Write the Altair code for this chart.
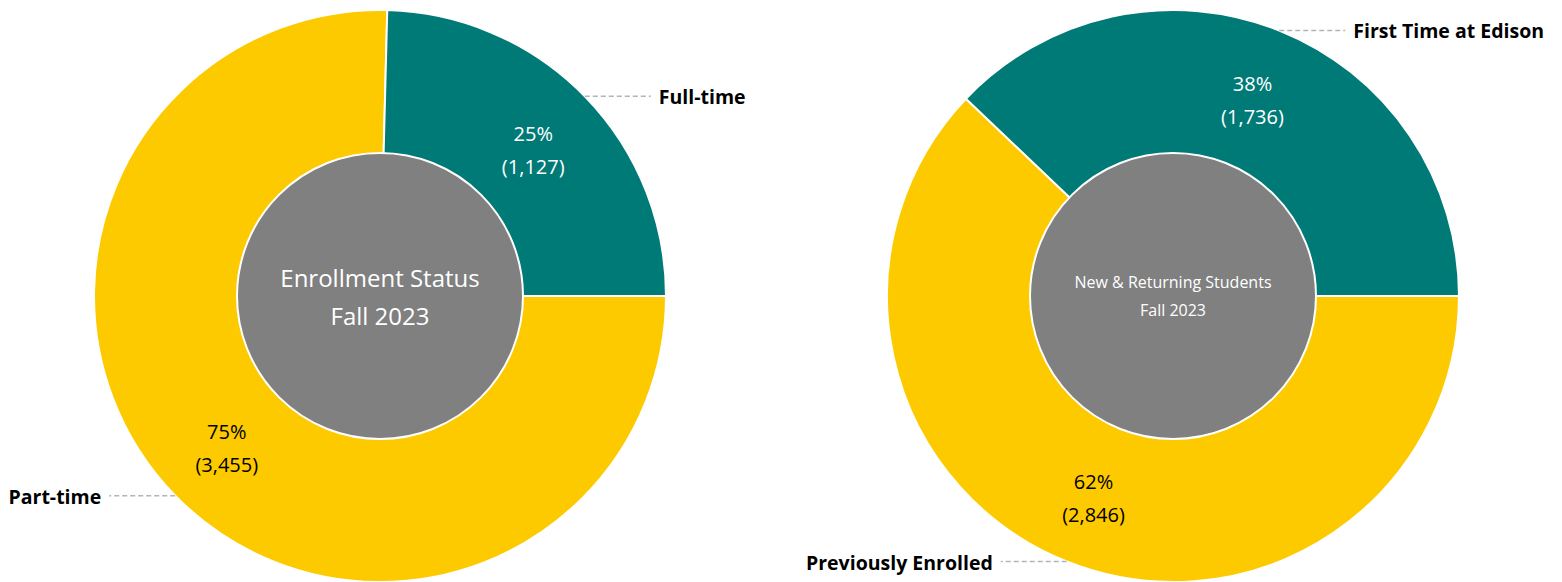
import altair as alt
import pandas as pd

# ---- data ----
groups = ["Enrollment Status", "Enrollment Status",
          "New & Returning Students", "New & Returning Students"]
categories = ["Part-time", "Full-time", "Previously Enrolled", "First Time at Edison"]
counts = [3455, 1127, 2846, 1736]
order = [1, 2, 1, 2]

center_titles = ["Enrollment Status", "New & Returning Students"]
center_subtitles = ["Fall 2023", "Fall 2023"]

# ---- layout / style ----
TEAL = "#007A76"
YELLOW = "#FDCA00"
GREY = "#808080"
FONT = "Open Sans"
CX_LEFT, CX_RIGHT, CY = 372, 1165, 288
R_OUT, R_IN, R_LABEL, LEADER = 286, 143, 214, 66

df = pd.DataFrame({"group": groups, "category": categories, "count": counts, "order": order})
centers = pd.DataFrame({"group": center_titles, "title": center_titles, "sub": center_subtitles,
                        "fs": [22, 15]})

cx_expr = f"datum.group === 'Enrollment Status' ? {CX_LEFT} : {CX_RIGHT}"

base = (
    alt.Chart(df)
    .transform_joinaggregate(total="sum(count)", groupby=["group"])
    .transform_window(cum="sum(count)", groupby=["group"],
                      sort=[alt.SortField("order")], frame=[None, 0])
    .transform_calculate(t1="PI/2 + 2*PI*datum.cum/datum.total")
    .transform_calculate(t0="PI/2 + 2*PI*(datum.cum - datum.count)/datum.total")
    .transform_calculate(tm="(datum.t0 + datum.t1)/2")
    .transform_calculate(cx=cx_expr)
    .transform_calculate(cy=str(CY))
    .transform_calculate(side="sin(datum.tm) > 0 ? 1 : -1")
    .transform_calculate(lx=f"datum.cx + {R_OUT}*sin(datum.tm)")
    .transform_calculate(ly=f"datum.cy - {R_OUT}*cos(datum.tm)")
    .transform_calculate(lx2=f"datum.lx + datum.side*{LEADER}")
    .transform_calculate(tx="datum.lx2 + datum.side*8")
    .transform_calculate(label="format(datum.count/datum.total, '.0%') + '\\n(' + format(datum.count, ',') + ')'")
    .transform_calculate(tcolor="datum.order === 2 ? 'white' : 'black'")
)

X = lambda f: alt.X(f, type="quantitative", scale=None, axis=None)
Y = lambda f: alt.Y(f, type="quantitative", scale=None, axis=None)

arcs = base.mark_arc(outerRadius=R_OUT, innerRadius=0, stroke="white", strokeWidth=2).encode(
    theta=alt.Theta("t0:Q", scale=None, stack=False),
    theta2="t1:Q",
    x=X("cx"), y=Y("cy"),
    color=alt.Color("category:N", legend=None,
                    scale=alt.Scale(domain=categories, range=[YELLOW, TEAL, YELLOW, TEAL])),
)

pct = base.mark_text(radius=R_LABEL, font=FONT, fontSize=20, lineBreak="\n", lineHeight=33,
                     dy=-12, align="center", baseline="middle").encode(
    theta=alt.Theta("tm:Q", scale=None, stack=False),
    x=X("cx"), y=Y("cy"),
    text="label:N",
    color=alt.Color("tcolor:N", scale=None),
)

leaders = base.mark_rule(color="#AEB6BA", strokeWidth=1.5, strokeDash=[5, 3]).encode(
    x=X("lx"), x2="lx2", y=Y("ly"), y2="ly",
)

cat_right = base.transform_filter("datum.side > 0").mark_text(
    font=FONT, fontSize=19.5, fontWeight="bold", align="left", baseline="middle", color="black", dy=2
).encode(x=X("tx"), y=Y("ly"), text="category:N")

cat_left = base.transform_filter("datum.side < 0").mark_text(
    font=FONT, fontSize=19.5, fontWeight="bold", align="right", baseline="middle", color="black", dy=2
).encode(x=X("tx"), y=Y("ly"), text="category:N")

cbase = alt.Chart(centers).transform_calculate(cx=cx_expr).transform_calculate(cy=str(CY)) \
    .transform_calculate(txt="datum.title + '\\n' + datum.sub")

hole = cbase.mark_arc(outerRadius=R_IN, theta=0, theta2=6.2832, fill=GREY,
                      stroke="white", strokeWidth=2).encode(x=X("cx"), y=Y("cy"))

ctext_l = cbase.transform_filter("datum.fs > 20").mark_text(
    font=FONT, fontSize=24, lineBreak="\n", lineHeight=38, dy=-16, color="white",
    align="center", baseline="middle").encode(x=X("cx"), y=Y("cy"), text="txt:N")
ctext_r = cbase.transform_filter("datum.fs < 20").mark_text(
    font=FONT, fontSize=16, lineBreak="\n", lineHeight=28, dy=-13, color="white",
    align="center", baseline="middle").encode(x=X("cx"), y=Y("cy"), text="txt:N")

chart = alt.layer(arcs, hole, pct, leaders, cat_right, cat_left, ctext_l, ctext_r).properties(
    width=1546, height=574, padding=0, autosize="none"
).configure_view(stroke=None)

chart.save("out.html", embed_options={"renderer": "svg", "actions": False})
